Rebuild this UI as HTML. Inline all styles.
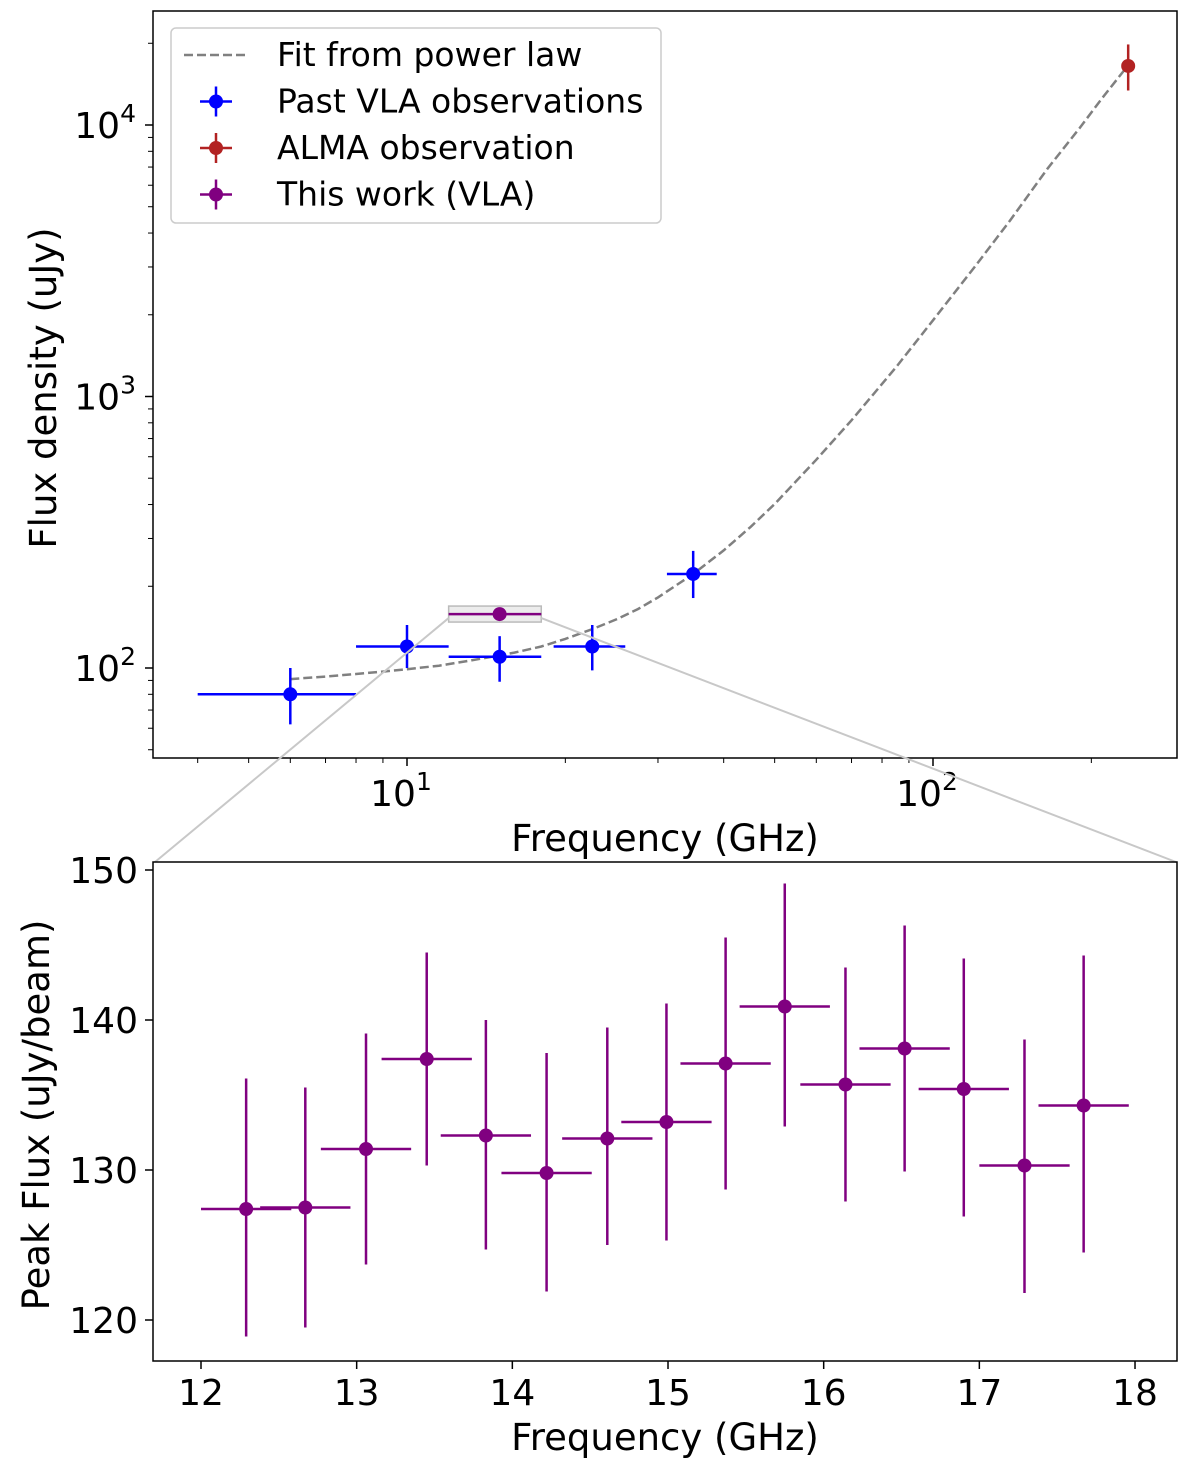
<!DOCTYPE html>
<html><head><meta charset="utf-8"><style>
html,body{margin:0;padding:0;background:#fff;}
svg{display:block;font-family:"DejaVu Sans","Liberation Sans",sans-serif;}
</style></head><body>
<svg id="fig" width="1200" height="1479" viewBox="0 0 1200 1479" xmlns="http://www.w3.org/2000/svg"></svg>
<script>
// ---- Top chart data ----
const vlaFreq = [6, 10, 15, 22.5, 35];
const vlaFlux = [80, 120, 110, 120, 222];
const vlaFreqErr = [2, 2, 3, 3.5, 3.8];
const vlaFluxLo = [62, 100, 89, 98, 181];
const vlaFluxHi = [100, 144, 131, 144, 270];
const almaFreq = [235];
const almaFlux = [16500];
const almaFluxLo = [13400];
const almaFluxHi = [19800];
const thisFreq = [15];
const thisFlux = [158];
const thisFreqLo = [12];
const thisFreqHi = [18];
const fitFreq = [6, 7, 8, 9, 10, 11.5, 13, 14.5, 16, 18, 20, 22.5, 25, 27.5, 30, 35, 40, 45, 50, 60, 70, 85, 100, 120, 140, 165, 190, 210, 235];
const fitFlux = [91, 93, 95, 97, 99, 102, 106, 110, 114, 120, 128, 139, 151, 165, 182, 222, 271, 331, 402, 585, 817, 1280, 1908, 3000, 4440, 6900, 9740, 12600, 16600];
const topXTicks = [10, 100];
const topYTicks = [100, 1000, 10000];

// ---- Bottom chart data ----
const zFreq = [12.29, 12.67, 13.06, 13.45, 13.83, 14.22, 14.61, 14.99, 15.37, 15.75, 16.14, 16.52, 16.90, 17.29, 17.67];
const zFlux = [127.4, 127.5, 131.4, 137.4, 132.3, 129.8, 132.1, 133.2, 137.1, 140.9, 135.7, 138.1, 135.4, 130.3, 134.3];
const zFluxLo = [118.9, 119.5, 123.7, 130.3, 124.7, 121.9, 125.0, 125.3, 128.7, 132.9, 127.9, 129.9, 126.9, 121.8, 124.5];
const zFluxHi = [136.1, 135.5, 139.1, 144.5, 140.0, 137.8, 139.5, 141.1, 145.5, 149.1, 143.5, 146.3, 144.1, 138.7, 144.3];
const zFreqErr = [0.29, 0.29, 0.29, 0.29, 0.29, 0.29, 0.29, 0.29, 0.29, 0.29, 0.29, 0.29, 0.29, 0.29, 0.29];
const botXTicks = [12, 13, 14, 15, 16, 17, 18];
const botYTicks = [120, 130, 140, 150];

const NS = "http://www.w3.org/2000/svg";
const svg = document.getElementById('fig');
function mk(tag, attrs, parent) {
  const e = document.createElementNS(NS, tag);
  for (const k in attrs) e.setAttribute(k, attrs[k]);
  (parent || svg).appendChild(e);
  return e;
}
const tx = v => 407 + (Math.log10(v) - 1) * 526;
const ty = v => 668 - (Math.log10(v) - 2) * 271.5;
const bx = v => 201 + (v - 12) * 155.67;
const by = v => 870 + (150 - v) * 15;

const topG = mk('g', {});


const clipD = mk('defs', {});
const cp = mk('clipPath', {id: 'cpTop'}, clipD);
mk('rect', {x: 153, y: 11, width: 1024, height: 747}, cp);

let d = '';
fitFreq.forEach((f, i) => { d += (i ? 'L' : 'M') + tx(f).toFixed(1) + ' ' + ty(fitFlux[i]).toFixed(1); });
const fit = mk('path', {d: d, fill: 'none', stroke: '#808080', 'stroke-width': 2.5, 'stroke-dasharray': '9 4', 'clip-path': 'url(#cpTop)'}, topG);



function errPoint(g, x, y, x1, x2, y1, y2, color, name) {
  const pg = mk('g', {}, g);
  
  
  mk('line', {x1: x1, x2: x2, y1: y, y2: y, stroke: color, 'stroke-width': 2.5}, pg);
  mk('line', {x1: x, x2: x, y1: y1, y2: y2, stroke: color, 'stroke-width': 2.5}, pg);
  mk('circle', {cx: x, cy: y, r: 7, fill: color}, pg);
}
vlaFreq.forEach((f, i) => {
  errPoint(topG, tx(f), ty(vlaFlux[i]), tx(f - vlaFreqErr[i]), tx(f + vlaFreqErr[i]), ty(vlaFluxHi[i]), ty(vlaFluxLo[i]), '#0000ff', 'vla-point');
});
almaFreq.forEach((f, i) => {
  errPoint(topG, tx(f), ty(almaFlux[i]), tx(f), tx(f), ty(almaFluxHi[i]), ty(almaFluxLo[i]), '#b22222', 'alma-point');
});
const zb = mk('rect', {x: tx(thisFreqLo[0]), y: ty(thisFlux[0]) - 8, width: tx(thisFreqHi[0]) - tx(thisFreqLo[0]), height: 16, fill: 'rgba(200,200,200,0.35)', stroke: '#bbb', 'stroke-width': 1.5}, topG);


thisFreq.forEach((f, i) => {
  errPoint(topG, tx(f), ty(thisFlux[i]), tx(thisFreqLo[i]), tx(thisFreqHi[i]), ty(thisFlux[i]), ty(thisFlux[i]), '#800080', 'this-work-point');
});
const tf = mk('rect', {x: 153, y: 11, width: 1024, height: 747, fill: 'none', stroke: '#000', 'stroke-width': 1.5}, topG);


topXTicks.forEach(v => {
  mk('line', {x1: tx(v), x2: tx(v), y1: 758, y2: 766, stroke: '#000', 'stroke-width': 1.5}, topG);
  const t = mk('text', {x: tx(v) - 6, y: 806, 'font-size': 36, 'text-anchor': 'middle'}, topG);
  
  
  t.innerHTML = '10<tspan dy="-16" font-size="25">' + Math.round(Math.log10(v)) + '</tspan>';
});
[4,5,6,7,8,9,20,30,40,50,60,70,80,90,200].forEach(v => {
  mk('line', {x1: tx(v), x2: tx(v), y1: 758, y2: 763, stroke: '#000', 'stroke-width': 1}, topG);
});
topYTicks.forEach(v => {
  mk('line', {x1: 145, x2: 153, y1: ty(v), y2: ty(v), stroke: '#000', 'stroke-width': 1.5}, topG);
  const t = mk('text', {x: 136, y: ty(v) + 13, 'font-size': 36, 'text-anchor': 'end'}, topG);
  
  
  t.innerHTML = '10<tspan dy="-16" font-size="25">' + Math.round(Math.log10(v)) + '</tspan>';
});
[50,60,70,80,90,200,300,400,500,600,700,800,900,2000,3000,4000,5000,6000,7000,8000,9000,20000].forEach(v => {
  const y = ty(v);
  if (y > 11 && y < 758) mk('line', {x1: 148, x2: 153, y1: y, y2: y, stroke: '#000', 'stroke-width': 1}, topG);
});
const txl = mk('text', {x: 665, y: 851, 'font-size': 37, 'text-anchor': 'middle'}, topG);


txl.textContent = 'Frequency (GHz)';
const tyl = mk('text', {x: 0, y: 0, 'font-size': 37, 'text-anchor': 'middle', transform: 'translate(56,388) rotate(-90)'}, topG);


tyl.textContent = 'Flux density (uJy)';

const lg = mk('g', {}, topG);


mk('rect', {x: 171, y: 28, width: 490, height: 195, rx: 5, fill: '#fff', 'fill-opacity': 0.8, stroke: '#ccc', 'stroke-width': 1.5}, lg);
const legItems = [['Fit from power law', '#808080', 'dash'], ['Past VLA observations', '#0000ff', 'pt'], ['ALMA observation', '#b22222', 'pt'], ['This work (VLA)', '#800080', 'pt']];
legItems.forEach((it, i) => {
  const y = 55 + i * 46.5;
  const eg = mk('g', {}, lg);
  
  
  if (it[2] === 'dash') {
    mk('line', {x1: 184, x2: 246, y1: y, y2: y, stroke: it[1], 'stroke-width': 2.5, 'stroke-dasharray': '9 4'}, eg);
  } else {
    mk('line', {x1: 200, x2: 232, y1: y, y2: y, stroke: it[1], 'stroke-width': 2.5}, eg);
    mk('line', {x1: 216, x2: 216, y1: y - 15, y2: y + 15, stroke: it[1], 'stroke-width': 2.5}, eg);
    mk('circle', {cx: 216, cy: y, r: 7, fill: it[1]}, eg);
  }
  const t = mk('text', {x: 277, y: y + 11, 'font-size': 33}, eg);
  t.textContent = it[0];
});

const cg = mk('g', {});


mk('line', {x1: tx(thisFreqLo[0]), y1: ty(thisFlux[0]) + 4, x2: 155, y2: 862, stroke: '#c8c8c8', 'stroke-width': 2}, cg);
mk('line', {x1: tx(thisFreqHi[0]), y1: ty(thisFlux[0]) + 4, x2: 1176, y2: 862, stroke: '#c8c8c8', 'stroke-width': 2}, cg);

const botG = mk('g', {});


zFreq.forEach((f, i) => {
  errPoint(botG, bx(f), by(zFlux[i]), bx(f - zFreqErr[i]), bx(f + zFreqErr[i]), by(zFluxHi[i]), by(zFluxLo[i]), '#800080', 'zoom-point');
});
const bf = mk('rect', {x: 153, y: 862, width: 1024, height: 499, fill: 'none', stroke: '#000', 'stroke-width': 1.5}, botG);


botXTicks.forEach(v => {
  mk('line', {x1: bx(v), x2: bx(v), y1: 1361, y2: 1369, stroke: '#000', 'stroke-width': 1.5}, botG);
  const t = mk('text', {x: bx(v), y: 1405, 'font-size': 36, 'text-anchor': 'middle'}, botG);
  
  
  t.textContent = v;
});
botYTicks.forEach(v => {
  mk('line', {x1: 145, x2: 153, y1: by(v), y2: by(v), stroke: '#000', 'stroke-width': 1.5}, botG);
  const t = mk('text', {x: 138, y: by(v) + 13, 'font-size': 36, 'text-anchor': 'end'}, botG);
  
  
  t.textContent = v;
});
const bxl = mk('text', {x: 665, y: 1450, 'font-size': 37, 'text-anchor': 'middle'}, botG);


bxl.textContent = 'Frequency (GHz)';
const byl = mk('text', {x: 0, y: 0, 'font-size': 37, 'text-anchor': 'middle', transform: 'translate(49,1115) rotate(-90)'}, botG);


byl.textContent = 'Peak Flux (uJy/beam)';
</script>
</body></html>
